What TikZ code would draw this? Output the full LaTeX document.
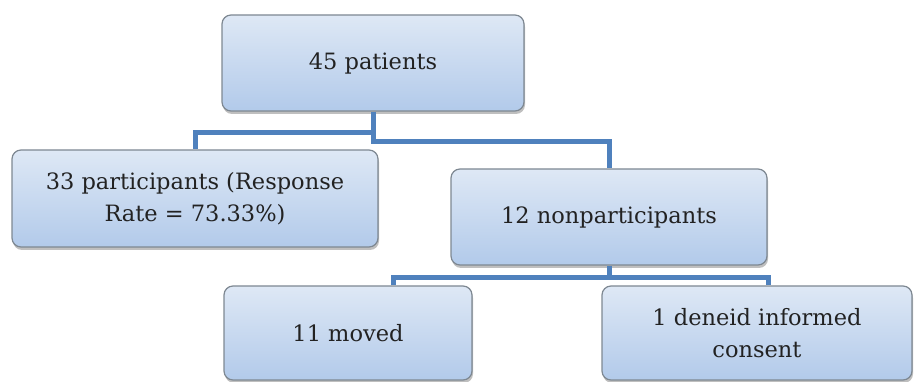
\documentclass[tikz,border=0pt]{standalone}
\usepackage{fontspec}
\setmainfont{DejaVu Serif}
\usetikzlibrary{shadows,calc}
\definecolor{boxtop}{HTML}{DEE8F5}
\definecolor{boxbot}{HTML}{B2CAEA}
\definecolor{boxline}{HTML}{7E8892}
\definecolor{linkblue}{HTML}{4F81BD}
\definecolor{txt}{HTML}{222222}
\tikzset{
  orgbox/.style={rectangle, rounded corners=9pt, draw=boxline, line width=1.2pt,
    top color=boxtop, bottom color=boxbot, align=center, text=txt,
    font=\fontsize{22.5}{32}\selectfont, inner sep=0pt,
    drop shadow={shadow xshift=1pt, shadow yshift=-3pt, opacity=0.5, fill=gray}},
  link/.style={draw=linkblue, line width=5pt, line join=miter}
}
\begin{document}
\begin{tikzpicture}[x=1pt,y=-1pt]
\useasboundingbox (0,0) rectangle (914,382);
\node[orgbox, minimum width=302pt, minimum height=96pt] (top) at (373,63) {45 patients};
\node[orgbox, minimum width=366pt, minimum height=97pt] (left) at (195,198.5) {33 participants (Response\\Rate = 73.33\%)};
\node[orgbox, minimum width=316pt, minimum height=96pt] (non) at (609,217) {12 nonparticipants};
\node[orgbox, minimum width=248pt, minimum height=94pt] (moved) at (348,333) {11 moved};
\node[orgbox, minimum width=310pt, minimum height=94pt] (den) at (757,333) {1 deneid informed\\consent};
\coordinate (j1) at (373,133);
\coordinate (j2) at (373,142);
\coordinate (j3) at (609,278);
\coordinate (bl) at (393,278);
\coordinate (br) at (768,278);
\draw[link] (top.south) -- (j2) -| (non.north);
\draw[link] (j1) -| (left.north);
\draw[link] (non.south) -- (j3);
\draw[link] (bl |- moved.north) -- (bl) -- (br) -- (br |- den.north);
\end{tikzpicture}
\end{document}
